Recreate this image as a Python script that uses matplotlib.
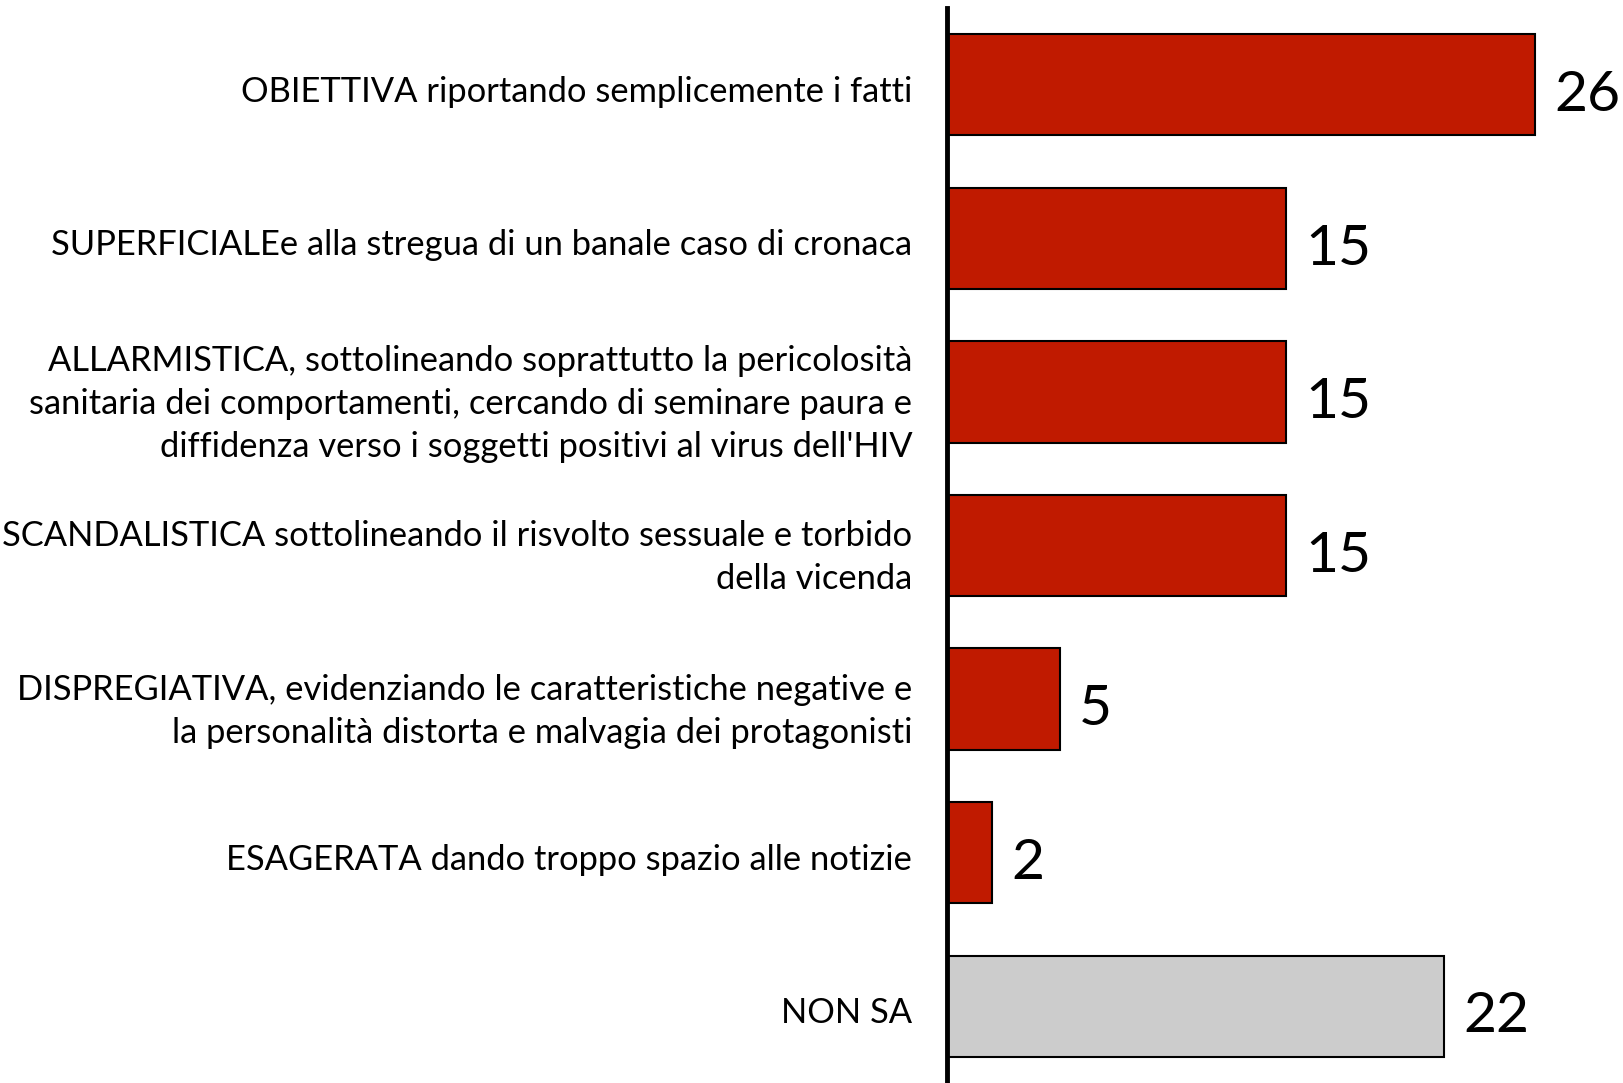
import matplotlib
matplotlib.use("Agg")
import matplotlib.pyplot as plt
from matplotlib.transforms import ScaledTranslation

categories = [
    "OBIETTIVA riportando semplicemente i fatti",
    "SUPERFICIALEe alla stregua di un banale caso di cronaca",
    "ALLARMISTICA, sottolineando soprattutto la pericolosità\nsanitaria dei comportamenti, cercando di seminare paura e\ndiffidenza verso i soggetti positivi al virus dell'HIV",
    "SCANDALISTICA sottolineando il risvolto sessuale e torbido\ndella vicenda",
    "DISPREGIATIVA, evidenziando le caratteristiche negative e\nla personalità distorta e malvagia dei protagonisti",
    "ESAGERATA dando troppo spazio alle notizie",
    "NON SA",
]
values = [26, 15, 15, 15, 5, 2, 22]
colors = ["#C01A00"] * 6 + ["#CCCCCC"]

plt.rcParams['font.family'] = ['Lato', 'DejaVu Sans']

fig = plt.figure(figsize=(16.23, 10.83), dpi=100)
ax = fig.add_axes([947/1623, 0.0, 1 - 947/1623, 1 - 8/1083])

y = list(range(len(categories)))
ax.barh(y, values, height=0.66, color=colors, edgecolor="black", linewidth=1.5)
ax.set_ylim(len(categories) - 0.5, -0.5)
ax.set_xlim(0, 29.9)

for yi, v in zip(y, values):
    ax.text(v + 0.85, yi + 0.07, str(v), va="center", ha="left", fontsize=41, color="black")

ax.set_yticks(y)
ax.set_yticklabels(categories, fontsize=24.8, ha="right", multialignment="right", linespacing=1.42)
ax.tick_params(axis="y", length=0, pad=25)
off = ScaledTranslation(0, -4/100, fig.dpi_scale_trans)
for lab in ax.get_yticklabels():
    lab.set_transform(lab.get_transform() + off)
ax.set_xticks([])
for s in ["top", "right", "bottom"]:
    ax.spines[s].set_visible(False)
ax.spines["left"].set_linewidth(3.5)
ax.spines["left"].set_color("black")

fig.savefig("out.png", dpi=100)
